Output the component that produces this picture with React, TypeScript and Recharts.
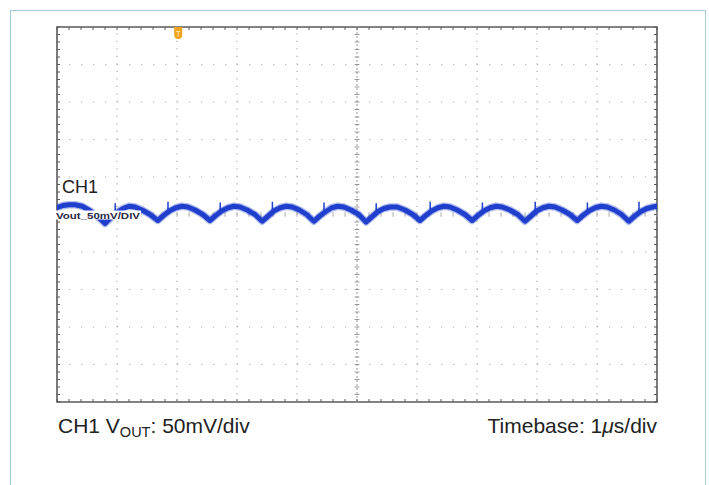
import React from 'react';
import { LineChart, Line, XAxis, YAxis, ReferenceLine, ReferenceDot, ReferenceArea } from 'recharts';

// ---- data (time in µs, voltage in mV; 1 µs/div, 50 mV/div) ----
const traceTimeUs = [
  0.0, 0.1, 0.2, 0.3, 0.42, 0.55, 0.68, 0.8,
  0.9, 1.0, 1.1, 1.2, 1.3, 1.42, 1.55, 1.68,
  1.78, 1.88, 1.98, 2.08, 2.18, 2.3, 2.43, 2.55,
  2.65, 2.75, 2.85, 2.95, 3.05, 3.17, 3.3, 3.42,
  3.52, 3.62, 3.72, 3.82, 3.92, 4.04, 4.16, 4.28,
  4.38, 4.48, 4.58, 4.68, 4.78, 4.9, 5.03, 5.15,
  5.25, 5.35, 5.45, 5.55, 5.67, 5.8, 5.93, 6.05,
  6.15, 6.25, 6.35, 6.45, 6.55, 6.67, 6.8, 6.92,
  7.02, 7.12, 7.22, 7.32, 7.42, 7.55, 7.68, 7.8,
  7.9, 8.0, 8.1, 8.2, 8.3, 8.42, 8.55, 8.67,
  8.77, 8.87, 8.97, 9.07, 9.17, 9.29, 9.41, 9.53,
  9.63, 9.73, 9.83, 9.93, 10.0,
];
const traceMv = [
  9, 12, 13, 13, 11, 5, -3, -12,
  -4, 3, 8, 11, 10, 6, 0, -8,
  -1, 5, 9, 11, 10, 6, 0, -8,
  -1, 5, 9, 11, 10, 6, 0, -9,
  -2, 5, 9, 11, 10, 6, 0, -9,
  -2, 4, 9, 11, 10, 6, 0, -10,
  -3, 4, 8, 10, 10, 6, 0, -8,
  -1, 5, 9, 11, 10, 6, 0, -8,
  -1, 5, 9, 11, 10, 6, 0, -9,
  -2, 5, 9, 11, 10, 6, 0, -8,
  -1, 5, 9, 11, 10, 6, 0, -9,
  -2, 4, 8, 10, 11,
];
const spikeTimeUs = [0.97, 1.85, 2.72, 3.59, 4.45, 5.32, 6.22, 7.09, 7.97, 8.84, 9.7];
const spikeBaseMv = [1, 3, 3, 3, 2, 2, 3, 3, 2, 3, 2];
const spikeTopMv = [15, 17, 16, 17, 16, 15, 17, 16, 17, 16, 17];

const triggerUs = 2.02;
const xDivs = [1, 2, 3, 4, 6, 7, 8, 9];
const yDivs = [-200, -150, -100, -50, 50, 100, 150, 200];
const xMinorTicks = Array.from({ length: 51 }, (_, i) => Math.round(i * 2) / 10);
const yMinorTicks = Array.from({ length: 51 }, (_, i) => -250 + i * 10);

const traceData = traceTimeUs.map((t, i) => ({ t, v: traceMv[i] }));
const spikeData = spikeTimeUs.flatMap((t, i) => [
  { t, v: spikeBaseMv[i] },
  { t, v: spikeTopMv[i] },
  { t: t + 0.001, v: null },
]);

const BLUE = '#1f3fcc';
const FRAME = '#5a5a5a';
const GRID = '#b0b0b0';
const FONT = '"Liberation Sans", Arial, Helvetica, sans-serif';

const TriggerMarker = (props: any) => {
  const { cx, cy } = props;
  return (
    <g>
      <path
        d={`M${cx - 4},${cy} L${cx + 4},${cy} L${cx + 4},${cy + 8} Q${cx + 4},${cy + 12} ${cx},${cy + 12} Q${cx - 4},${cy + 12} ${cx - 4},${cy + 8} Z`}
        fill="#f2a31c"
      />
      <path d={`M${cx - 2},${cy + 4.5} L${cx + 2},${cy + 4.5} M${cx},${cy + 4.5} L${cx},${cy + 9.5}`} stroke="#fde1a8" strokeWidth={1} />
    </g>
  );
};

const ax = { xAxisId: 'b', yAxisId: 'l' } as const;

export default function App() {
  return (
    <div style={{ position: 'absolute', left: 0, top: 0, width: 709, height: 485, background: '#fff' }}>
      <div
        style={{
          position: 'absolute', left: 10, top: 10, width: 696, height: 480, boxSizing: 'border-box',
          borderLeft: '1.5px solid #a6cdd9', borderTop: '1.5px solid #a6cdd9', borderRight: '1.5px solid #a6cdd9',
        }}
      />
      <div style={{ position: 'absolute', left: 0, top: 0 }}>
        <LineChart width={709} height={485} data={traceData} margin={{ top: 27, right: 52, bottom: 83, left: 57 }}>
          <XAxis xAxisId="b" dataKey="t" type="number" domain={[0, 10]} hide allowDataOverflow />
          <YAxis yAxisId="l" type="number" domain={[-250, 250]} hide allowDataOverflow />

          {xDivs.map((x) => (
            <ReferenceLine key={'xd' + x} x={x} {...ax} stroke={GRID} strokeWidth={1.2} strokeDasharray="1.2 6.3" />
          ))}
          {yDivs.map((y) => (
            <ReferenceLine key={'yd' + y} y={y} {...ax} stroke={GRID} strokeWidth={1.2} strokeDasharray="1.2 10.8" />
          ))}
          <ReferenceLine x={5} {...ax} stroke="#999" strokeWidth={1} strokeDasharray="2 2" />
          {xMinorTicks.map((x) => (
            <ReferenceLine key={'cx' + x} {...ax} segment={[{ x, y: -3 }, { x, y: 3 }]} stroke="#aaa" strokeWidth={1} />
          ))}
          {yMinorTicks.map((y) => (
            <ReferenceLine key={'cy' + y} {...ax} segment={[{ x: 4.96, y }, { x: 5.04, y }]} stroke="#999" strokeWidth={1} />
          ))}

          {/* frame ticks */}
          {xMinorTicks.map((x) => (
            <ReferenceLine key={'ft' + x} {...ax} segment={[{ x, y: 250 }, { x, y: 246 }]} stroke={FRAME} strokeWidth={1} />
          ))}
          {xMinorTicks.map((x) => (
            <ReferenceLine key={'fb' + x} {...ax} segment={[{ x, y: -250 }, { x, y: -246 }]} stroke={FRAME} strokeWidth={1} />
          ))}
          {yMinorTicks.map((y) => (
            <ReferenceLine key={'fl' + y} {...ax} segment={[{ x: 0, y }, { x: 0.05, y }]} stroke={FRAME} strokeWidth={1} />
          ))}
          {yMinorTicks.map((y) => (
            <ReferenceLine key={'fr' + y} {...ax} segment={[{ x: 10, y }, { x: 9.95, y }]} stroke={FRAME} strokeWidth={1} />
          ))}
          <ReferenceArea {...ax} x1={0} x2={10} y1={-250} y2={250} fill="none" fillOpacity={0} stroke={FRAME} strokeWidth={1.6} />

          <Line {...ax} dataKey="v" type="linear" stroke={BLUE} strokeOpacity={0.35} strokeWidth={7.5} dot={false}
            strokeLinejoin="round" strokeLinecap="round" isAnimationActive={false} />
          <Line {...ax} dataKey="v" type="linear" stroke={BLUE} strokeWidth={5} dot={false}
            strokeLinejoin="round" strokeLinecap="round" isAnimationActive={false} />
          <Line {...ax} data={spikeData} dataKey="v" type="linear" stroke={BLUE} strokeWidth={1.5} dot={false}
            connectNulls={false} isAnimationActive={false} />
          <ReferenceDot {...ax} x={triggerUs} y={250} r={0} shape={TriggerMarker} />
        </LineChart>
      </div>
      <svg width={709} height={485} style={{ position: 'absolute', left: 0, top: 0, pointerEvents: 'none' }}>
        <text x={62} y={193} fontFamily={FONT} fontSize={18} fill="#222">CH1</text>
        <rect x={55} y={210.5} width={86} height={9} fill="#fff" />
        <text x={56} y={218.5} fontFamily={FONT} fontSize={9.5} fontWeight="bold" fill="#2a2a4a" textLength={84} lengthAdjust="spacingAndGlyphs">Vout_50mV/DIV</text>
        <text x={58} y={433} fontFamily={FONT} fontSize={21} fill="#222">
          CH1 V<tspan fontSize={14.5} dy={4}>OUT</tspan><tspan dy={-4}>: 50mV/div</tspan>
        </text>
        <text x={657} y={433} fontFamily={FONT} fontSize={21} fill="#222" textAnchor="end">
          Timebase: 1<tspan fontStyle="italic">μ</tspan>s/div
        </text>
      </svg>
    </div>
  );
}
